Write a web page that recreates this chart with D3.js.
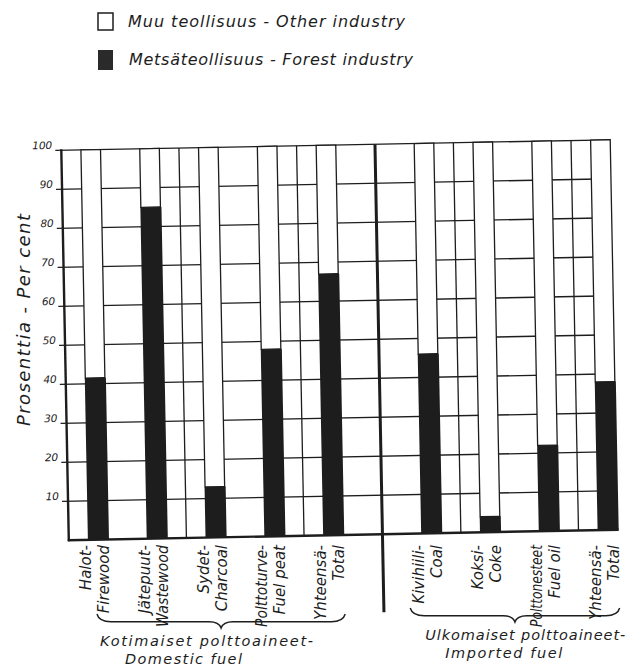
<!DOCTYPE html>
<html lang="fi">
<head>
<meta charset="UTF-8" />
<title>Metsäteollisuuden osuus polttoaineiden kulutuksesta</title>
<script src="https://d3js.org/d3.v7.min.js"></script>
<style>
  body { margin: 0; background: #fff; }
  svg { display: block; font-family: "DejaVu Sans", sans-serif; font-style: italic; }
  .grid line { stroke: #1d1d1d; stroke-width: 1.3; }
  .ink { fill: #1d1d1d; }
</style>
</head>
<body>
<div id="chart"></div>
<script>
// forest industry share (%) of each fuel, the rest is other industry
const domesticFi = ["Halot-", "Jätepuut-", "Sydet-", "Polttoturve-", "Yhteensä-"];
const domesticEn = ["Firewood", "Wastewood", "Charcoal", "Fuel peat", "Total"];
const domesticForest = [41.5, 85, 13, 48, 67];

const importedFi = ["Kivihiili-", "Koksi-", "Polttonesteet", "Yhteensä-"];
const importedEn = ["Coal", "Coke", "Fuel oil", "Total"];
const importedForest = [46, 4, 22, 38];

const yTicks = [10, 20, 30, 40, 50, 60, 70, 80, 90, 100];
const groupFi = ["Kotimaiset polttoaineet-", "Ulkomaiset polttoaineet-"];
const groupEn = ["Domestic fuel", "Imported fuel"];
const legendLabels = ["Muu teollisuus - Other industry", "Metsäteollisuus - Forest industry"];
const yTitle = "Prosenttia - Per cent";

const width = 626, height = 669;
const ink = "#1d1d1d";

const svg = d3.select("#chart").append("svg")
  .attr("width", width)
  .attr("height", height);

// the drawing is slightly tilted on the page
const tilt = -1.1, pivot = [340, 340];
function rot(px, py) {
  const a = tilt * Math.PI / 180;
  const dx = px - pivot[0], dy = py - pivot[1];
  return [pivot[0] + dx * Math.cos(a) - dy * Math.sin(a),
          pivot[1] + dx * Math.sin(a) + dy * Math.cos(a)];
}

// x in grid cells of the graph paper
const x = d3.scaleLinear().domain([0, 28]).range([65, 614]);
const y = d3.scaleLinear().domain([0, 100]).range([535, 145]);
const domPos = d3.scalePoint().domain(d3.range(domesticFi.length)).range([1, 13]);
const impPos = d3.scalePoint().domain(d3.range(importedFi.length)).range([18, 27]);

const bars = domesticFi.map((fi, i) => ({ fi, en: domesticEn[i], value: domesticForest[i], cell: domPos(i), group: 0 }))
  .concat(importedFi.map((fi, i) => ({ fi, en: importedEn[i], value: importedForest[i], cell: impPos(i), group: 1 })));

const midCells = [6, 12, 20, 26];
const dividerCell = 16;

const plot = svg.append("g").attr("transform", `rotate(${tilt},${pivot[0]},${pivot[1]})`);

// grid
const grid = plot.append("g").attr("class", "grid");
grid.selectAll(".h").data(yTicks).join("line")
  .attr("class", "h")
  .attr("x1", x(0) - 6).attr("x2", x(28))
  .attr("y1", d => y(d)).attr("y2", d => y(d))
  .attr("stroke-width", d => d === 100 ? 1.6 : 1.3);
grid.selectAll(".v").data(midCells).join("line")
  .attr("class", "v")
  .attr("x1", d => x(d)).attr("x2", d => x(d))
  .attr("y1", y(100)).attr("y2", y(0));

// bars
const bw = x(1) - x(0);
const bar = plot.append("g").selectAll("g").data(bars).join("g");
bar.append("rect")
  .attr("x", d => x(d.cell)).attr("width", bw)
  .attr("y", y(100)).attr("height", d => y(d.value) - y(100))
  .attr("fill", "#fff").attr("stroke", ink).attr("stroke-width", 1.3);
bar.append("rect")
  .attr("x", d => x(d.cell) - 0.5).attr("width", bw + 1.5)
  .attr("y", d => y(d.value)).attr("height", d => y(0) - y(d.value))
  .attr("fill", ink);

// axes and divider
plot.append("line")
  .attr("x1", x(0)).attr("x2", x(0)).attr("y1", y(100) - 1).attr("y2", y(0) + 1)
  .attr("stroke", ink).attr("stroke-width", 2.4);
plot.append("line")
  .attr("x1", x(0) - 1).attr("x2", x(28) + 1).attr("y1", y(0)).attr("y2", y(0))
  .attr("stroke", ink).attr("stroke-width", 2.4);
plot.append("line")
  .attr("x1", x(dividerCell)).attr("x2", x(dividerCell)).attr("y1", y(100)).attr("y2", y(0) + 78)
  .attr("stroke", ink).attr("stroke-width", 3);

// y tick labels
plot.append("g").selectAll("text").data(yTicks).join("text")
  .attr("class", "ink")
  .attr("x", x(0) - 9).attr("y", d => y(d) - 1.5)
  .attr("text-anchor", "end")
  .attr("font-size", 10.5)
  .text(d => d);

// y title
svg.append("text")
  .attr("class", "ink")
  .attr("transform", "translate(30,320) rotate(-90)")
  .attr("text-anchor", "middle")
  .attr("font-size", 18)
  .attr("textLength", 212)
  .text(yTitle);

// category labels, written upwards from below the axis
const labelTop = 545, maxLabel = 82;
const cat = svg.append("g").selectAll("g").data(bars).join("g")
  .attr("transform", d => `translate(${rot(x(d.cell + 0.5), 575)[0]},${labelTop})`);
[["fi", -8], ["en", 10]].forEach(([key, dx]) => {
  cat.append("text")
    .attr("class", "ink")
    .attr("transform", `translate(${dx},0) rotate(-90)`)
    .attr("text-anchor", "end").attr("font-size", 15)
    .text(d => d[key])
    .each(function() {
      if (this.getComputedTextLength() > maxLabel) {
        d3.select(this).attr("textLength", maxLabel).attr("lengthAdjust", "spacingAndGlyphs");
      }
    });
});

// group braces and titles
function brace(x1, x2, y0, depth, tipX) {
  const m = y0 + depth * 0.55;
  return `M${x1},${y0} Q${x1 + 2},${m} ${x1 + 14},${m} L${tipX - 12},${m} Q${tipX - 2},${m} ${tipX},${y0 + depth}` +
         ` Q${tipX + 2},${m} ${tipX + 12},${m} L${x2 - 14},${m} Q${x2 - 2},${m} ${x2},${y0}`;
}
const groupLayout = [
  { pad: [-2, 11], top: 614, l1: 3, l2: 28, base: 646, len: 213 },
  { pad: [-22, 11], top: 608, l1: 15, l2: 35, base: 640, len: 200 }
];
groupLayout.forEach((g, gi) => {
  const members = bars.filter(b => b.group === gi);
  const cx = members.map(b => rot(x(b.cell + 0.5), 575)[0]);
  const x1 = d3.min(cx) + g.pad[0], x2 = d3.max(cx) + g.pad[1];
  svg.append("path")
    .attr("d", brace(x1, x2, g.top, 14, (x1 + x2) / 2))
    .attr("fill", "none").attr("stroke", ink).attr("stroke-width", 1.4);
  svg.append("text").attr("class", "ink")
    .attr("x", x1 + g.l1).attr("y", g.base)
    .attr("font-size", 14.5).attr("textLength", g.len)
    .text(groupFi[gi]);
  svg.append("text").attr("class", "ink")
    .attr("x", x1 + g.l2).attr("y", g.base + 18)
    .attr("font-size", 14.5).attr("textLength", 117)
    .text(groupEn[gi]);
});

// legend
const legend = svg.append("g").attr("transform", "translate(98,13)");
legend.append("rect").attr("x", 0).attr("y", 0).attr("width", 15).attr("height", 17)
  .attr("fill", "#fff").attr("stroke", ink).attr("stroke-width", 1.5);
legend.append("rect").attr("x", 0).attr("y", 37).attr("width", 15).attr("height", 20)
  .attr("fill", "#2a2a2a");
legend.append("text").attr("class", "ink")
  .attr("x", 30).attr("y", 14).attr("font-size", 16).attr("textLength", 277)
  .text(legendLabels[0]);
legend.append("text").attr("class", "ink")
  .attr("x", 31).attr("y", 52).attr("font-size", 16).attr("textLength", 284)
  .text(legendLabels[1]);
</script>
</body>
</html>
